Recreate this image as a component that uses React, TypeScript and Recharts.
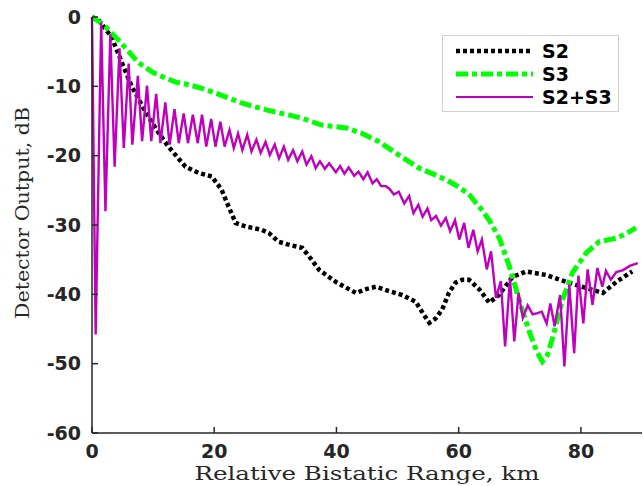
import { LineChart, Line, XAxis, YAxis } from "recharts";

// S2 (black dotted)
const s2Range = [0, 1, 2, 3.2, 4.9, 6.5, 8.8, 10.9, 12.5, 15.3, 17.5, 19.6, 21.2, 22, 23.5, 25.1, 27.8, 29, 30.5, 32, 34.4, 35.5, 37.2, 39.9, 41.5, 43.2, 45, 46.5, 48.5, 50.8, 53, 54.2, 55.2, 56.2, 57.3, 58.4, 59.5, 60.6, 61.7, 63.4, 65, 66.6, 68.8, 71, 74.3, 77.6, 80.9, 83.6, 85.8, 88.4];
const s2Db = [0, -0.4, -1.5, -2.9, -6.6, -10, -13.8, -16.7, -18.7, -21.6, -22.5, -23, -24.9, -26.6, -29.7, -30.2, -30.7, -31.2, -32.4, -32.8, -33.3, -34.5, -36.5, -38.2, -39, -39.8, -39.2, -38.9, -39.5, -40.1, -41.1, -42.8, -44.1, -43.5, -42.2, -39.8, -38.3, -37.9, -37.9, -39.3, -41.2, -40.1, -37.5, -36.7, -37.2, -38.2, -39.1, -39.8, -38.2, -36.7];

// S3 (green dash-dot)
const s3Range = [0, 2, 4.3, 6, 7.6, 10, 12, 13.7, 16, 18, 20, 22.4, 24.5, 26.8, 29, 31, 34.4, 37.6, 41.6, 44.2, 47, 49, 50.7, 53.5, 56, 58, 60, 61.7, 63.5, 65, 66.7, 68.3, 69.9, 71.6, 72.8, 73.7, 74.5, 75.3, 77, 78.6, 80.9, 83, 85.8, 87.5, 89];
const s3Db = [0, -1.2, -3.3, -5, -6.6, -8, -8.8, -9.4, -9.8, -10.3, -10.9, -11.7, -12.4, -13, -13.5, -13.9, -14.6, -15.6, -16, -16.8, -18, -19.2, -20.2, -21.8, -22.7, -23.5, -24.5, -25.6, -27.5, -29.3, -32, -36, -40.8, -45.5, -48.3, -49.7, -48.8, -46.5, -40.8, -36.9, -34, -32.4, -31.9, -31.2, -30.4];

// S2+S3 (magenta solid)
const sumRange = [0, 0.6, 1.5, 2.2, 3.0, 3.7, 4.5, 5.2, 6.0, 6.6, 7.5, 8.2, 9.0, 9.7, 10.5, 11.2, 12.0, 12.7, 13.5, 14.2, 15.0, 15.7, 16.5, 17.3, 18.0, 18.7, 19.5, 20.2, 21.0, 21.7, 22.5, 23.2, 23.9, 24.6, 25.4, 26.1, 26.9, 27.6, 28.4, 29.1, 29.9, 30.6, 31.4, 32.1, 32.9, 33.6, 34.4, 35.1, 35.9, 36.6, 37.3, 38.1, 38.8, 39.9, 40.6, 41.3, 42.0, 42.9, 43.6, 44.4, 45.1, 45.9, 46.6, 47.3, 48.1, 48.7, 49.4, 50.2, 51.1, 51.9, 52.6, 53.4, 54.1, 54.9, 55.5, 56.3, 57.1, 57.9, 58.6, 59.4, 60.1, 60.9, 61.6, 62.4, 63.1, 63.8, 64.6, 65.3, 66.1, 66.9, 67.6, 68.4, 69.1, 69.8, 70.5, 71.3, 72.1, 72.9, 73.6, 74.4, 75.0, 75.7, 76.6, 77.3, 78.1, 78.9, 79.6, 80.4, 81.1, 81.9, 82.7, 83.5, 84.1, 84.9, 85.8, 86.9, 88.0, 89.3];
const sumDb = [0, -45.8, -0.8, -28.0, -2.5, -21.6, -4.5, -18.9, -6.7, -18.4, -8.5, -17.9, -9.9, -17.9, -11.1, -18.2, -12.3, -18.4, -13.3, -18.2, -13.9, -18.2, -14.1, -18.2, -14.1, -18.7, -14.7, -18.7, -15.1, -18.7, -16.3, -18.9, -16.8, -19.2, -17.0, -19.4, -17.7, -19.6, -18.0, -19.9, -18.4, -20.4, -18.7, -20.6, -19.2, -20.8, -19.4, -21.3, -20.1, -21.8, -20.8, -21.9, -21.1, -22.4, -21.5, -22.6, -21.7, -22.9, -22.3, -23.4, -22.4, -24.0, -23.4, -24.4, -24.4, -24.8, -25.6, -25.2, -26.9, -25.8, -28.3, -27.1, -28.8, -27.6, -29.3, -28.7, -30.1, -29.0, -30.9, -29.3, -32.1, -29.7, -33.3, -30.7, -33.8, -32.1, -36.4, -33.8, -40.5, -38.1, -47.5, -37.7, -46.8, -39.8, -43.4, -41.6, -42.9, -42.7, -42.5, -44.2, -41.3, -44.6, -40.1, -50.4, -38.6, -48.5, -37.3, -44.2, -36.4, -41.5, -36.2, -38.9, -36.6, -37.9, -36.8, -36.5, -35.9, -35.5];

const xTicks = [0, 20, 40, 60, 80];
const yTicks = [-60, -50, -40, -30, -20, -10, 0];

const toPoints = (xs: number[], ys: number[]) => xs.map((x, i) => ({ x, y: ys[i] }));

const series = [
  { name: "S2", points: toPoints(s2Range, s2Db), color: "#000000", width: 4.5, dash: "4 3" },
  { name: "S3", points: toPoints(s3Range, s3Db), color: "#00ff00", width: 5, dash: "12 4 5 4" },
  { name: "S2+S3", points: toPoints(sumRange, sumDb), color: "#bf00bf", width: 2.4, dash: undefined },
];

const axisColor = "#262626";
const tickFont = { fill: axisColor, fontSize: 19, fontWeight: "bold", fontFamily: "DejaVu Sans" };

const App = () => {
  return (
    <div style={{ position: "absolute", left: 0, top: 0, width: 643, height: 486, background: "#fff" }}>
      <LineChart width={643} height={486} margin={{ top: 17, right: 1, bottom: 0, left: 0 }}>
        <XAxis
          xAxisId="b"
          dataKey="x"
          type="number"
          domain={[0, 90]}
          ticks={xTicks}
          interval={0}
          height={53}
          tickSize={-6}
          tickMargin={18}
          tick={tickFont}
          stroke={axisColor}
          strokeWidth={1.5}
          label={{
            content: () => (
              <text x={367} y={480} textAnchor="middle" fontFamily="DejaVu Serif" fontSize={19} fill={axisColor} textLength={345} lengthAdjust="spacingAndGlyphs">
                Relative Bistatic Range, km
              </text>
            ),
          }}
        />
        <XAxis xAxisId="t" orientation="top" type="number" domain={[0, 90]} ticks={xTicks} interval={0} height={0} tickSize={-6} tick={false} stroke={axisColor} strokeWidth={1.5} />
        <YAxis
          yAxisId="l"
          type="number"
          domain={[-60, 0]}
          ticks={yTicks}
          interval={0}
          width={92}
          tickSize={-6}
          tickMargin={17}
          tick={tickFont}
          stroke={axisColor}
          strokeWidth={1.5}
          label={{
            content: () => (
              <text x={22} y={213} transform="rotate(-90 22 213)" dy="0.35em" textAnchor="middle" fontFamily="DejaVu Serif" fontSize={19} fill={axisColor} textLength={212} lengthAdjust="spacingAndGlyphs">
                Detector Output, dB
              </text>
            ),
          }}
        />
        <YAxis yAxisId="r" orientation="right" type="number" domain={[-60, 0]} ticks={yTicks} interval={0} width={0} tickSize={-6} tick={false} stroke={axisColor} strokeWidth={1.5} />
        {series.map((s) => (
          <Line
            key={s.name}
            xAxisId="b"
            yAxisId="l"
            data={s.points}
            dataKey="y"
            name={s.name}
            type="linear"
            stroke={s.color}
            strokeWidth={s.width}
            strokeDasharray={s.dash}
            dot={false}
            activeDot={false}
            isAnimationActive={false}
          />
        ))}
      </LineChart>
      <div
        style={{
          position: "absolute",
          left: 442,
          top: 35,
          width: 177,
          height: 77,
          boxSizing: "border-box",
          border: "1.5px solid #d4d0c8",
          background: "#fff",
        }}
      >
        <svg width={174} height={74}>
          {series.map((s, i) => (
            <g key={s.name}>
              <line x1={13} x2={90} y1={15 + i * 23} y2={15 + i * 23} stroke={s.color} strokeWidth={s.name === "S2+S3" ? 2 : s.width} strokeDasharray={s.dash} />
              <text x={99} y={15 + i * 23} dy="0.36em" fontFamily="DejaVu Sans" fontWeight="bold" fontSize={19} fill="#000">
                {s.name}
              </text>
            </g>
          ))}
        </svg>
      </div>
    </div>
  );
};

export default App;
